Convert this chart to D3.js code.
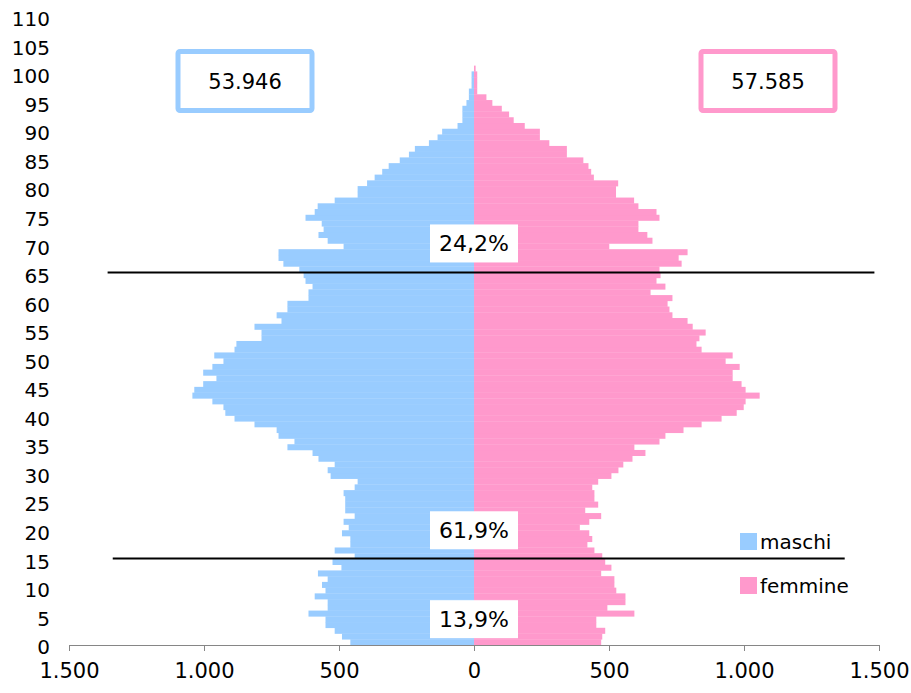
<!DOCTYPE html>
<html>
<head>
<meta charset="utf-8">
<script src="https://cdn.jsdelivr.net/npm/d3@7"></script>
<style>
  body { margin: 0; background: #fff; }
  svg { display: block; font-family: "DejaVu Sans", Verdana, sans-serif; }
</style>
</head>
<body>
<script>
// eta 0..100
var ages = d3.range(0, 101);
var maschi = [458, 489, 516, 550, 550, 613, 542, 542, 590, 550,
  563, 542, 578, 491, 524, 442, 516, 458, 458, 489,
  464, 483, 442, 477, 477, 477, 483, 442, 431, 531,
  542, 516, 576, 598, 691, 665, 724, 731, 813, 887,
  921, 928, 969, 1043, 1036, 1003, 954, 1003, 969, 928,
  962, 887, 880, 787, 787, 813, 713, 731, 691, 691,
  613, 613, 598, 624, 631, 647, 706, 724, 724, 483,
  542, 576, 557, 564, 624, 590, 579, 516, 431, 431,
  396, 368, 340, 316, 275, 241, 219, 167, 135, 118,
  61, 43, 43, 43, 28, 19, 19, 9, 9, 9, 0];
var femmine = [471, 475, 486, 453, 453, 594, 494, 561, 561, 527,
  520, 520, 471, 509, 486, 475, 446, 420, 438, 427,
  392, 427, 471, 412, 460, 446, 446, 438, 460, 509,
  535, 553, 587, 635, 594, 687, 709, 776, 843, 917,
  973, 999, 1006, 1058, 1006, 991, 958, 958, 984, 932,
  958, 843, 824, 835, 858, 810, 791, 735, 724, 717,
  735, 654, 709, 676, 691, 687, 769, 758, 791, 501,
  661, 642, 609, 609, 687, 676, 609, 593, 526, 526,
  534, 444, 434, 424, 405, 344, 344, 279, 244, 244,
  188, 147, 130, 103, 68, 46, 12, 12, 12, 12, 6];
var yTicks = d3.range(0, 111, 5);
var xTicks = [-1500, -1000, -500, 0, 500, 1000, 1500];
var totali = ["53.946", "57.585"];
var quote = [{ label: "24,2%", age: 70 }, { label: "61,9%", age: 20 }, { label: "13,9%", age: 4.5 }];
var serie = ["maschi", "femmine"];
var colori = ["#99ccff", "#ff99cc"];

var W = 911, H = 693;
var svg = d3.select("body").append("svg").attr("width", W).attr("height", H);

var x = d3.scaleLinear().domain([-1500, 1500]).range([69, 879]);
var y = d3.scaleLinear().domain([0, 110]).range([645, 14]);       // barre
var yLab = d3.scaleLinear().domain([0, 110]).range([647, 19]);    // etichette asse

var it = d3.formatLocale({ decimal: ",", thousands: ".", grouping: [3], currency: ["€", ""] });
var fmt = it.format(",d");

// barre maschi
svg.append("g").selectAll("rect")
  .data(ages)
  .enter().append("rect")
  .attr("x", function(a) { return x(-maschi[a]); })
  .attr("y", function(a) { return y(a + 1); })
  .attr("width", function(a) { return x(0) - x(-maschi[a]); })
  .attr("height", function(a) { return y(a) - y(a + 1) + 0.3; })
  .attr("fill", colori[0]);

// barre femmine
svg.append("g").selectAll("rect")
  .data(ages)
  .enter().append("rect")
  .attr("x", x(0))
  .attr("y", function(a) { return y(a + 1); })
  .attr("width", function(a) { return x(femmine[a]) - x(0); })
  .attr("height", function(a) { return y(a) - y(a + 1) + 0.3; })
  .attr("fill", colori[1]);

// asse x
var ax = svg.append("g").attr("transform", "translate(0," + y(0) + ")")
  .call(d3.axisBottom(x).tickValues(xTicks).tickSize(6).tickSizeOuter(0)
    .tickFormat(function(d) { return fmt(Math.abs(d)); }));
ax.select(".domain").attr("stroke", "#868686");
ax.selectAll(".tick line").attr("stroke", "#868686");
ax.selectAll("text").attr("font-size", 21).attr("fill", "#000").attr("dy", "1.15em")
  .attr("font-family", "DejaVu Sans, Verdana, sans-serif");

// etichette eta
svg.append("g").selectAll("text")
  .data(yTicks)
  .enter().append("text")
  .attr("x", 50)
  .attr("y", function(d) { return yLab(d); })
  .attr("dy", "0.36em")
  .attr("text-anchor", "end")
  .attr("font-size", 20)
  .text(function(d) { return d; });

// linee 65 e 15
svg.append("line")
  .attr("x1", x(-1357)).attr("x2", x(1483))
  .attr("y1", Math.round(y(65)) + 0.5).attr("y2", Math.round(y(65)) + 0.5)
  .attr("stroke", "#000").attr("stroke-width", 2);
svg.append("line")
  .attr("x1", x(-1338)).attr("x2", x(1373))
  .attr("y1", Math.round(y(15)) - 0.5).attr("y2", Math.round(y(15)) - 0.5)
  .attr("stroke", "#000").attr("stroke-width", 2);

// etichette percentuali
quote.forEach(function(q) {
  var g = svg.append("g").attr("transform", "translate(" + x(0) + "," + (y(q.age) ) + ")");
  g.append("rect").attr("x", -44).attr("y", -19).attr("width", 88).attr("height", 38).attr("fill", "#fff");
  g.append("text").attr("text-anchor", "middle").attr("dy", "0.36em")
    .attr("font-size", 22).text(q.label);
});

// totali
[[245, totali[0], colori[0]], [768, totali[1], colori[1]]].forEach(function(t) {
  var g = svg.append("g").attr("transform", "translate(" + t[0] + ",81)");
  g.append("rect").attr("x", -67).attr("y", -29.5).attr("width", 134).attr("height", 59)
    .attr("rx", 2).attr("fill", "#fff").attr("stroke", t[2]).attr("stroke-width", 5);
  g.append("text").attr("text-anchor", "middle").attr("dy", "0.36em")
    .attr("font-size", 21).text(t[1]);
});

// legenda
var leg = svg.append("g").attr("transform", "translate(740,533)");
serie.forEach(function(s, i) {
  leg.append("rect").attr("x", 0).attr("y", i * 44).attr("width", 17).attr("height", 17).attr("fill", colori[i]);
  leg.append("text").attr("x", 20).attr("y", i * 44 + 8.5).attr("dy", "0.36em")
    .attr("font-size", 20).text(s);
});
</script>
</body>
</html>
